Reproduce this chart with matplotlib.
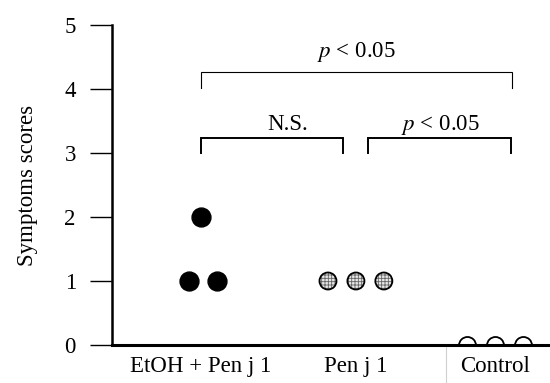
import matplotlib
matplotlib.use("Agg")
import matplotlib.pyplot as plt
import numpy as np

plt.rcParams['font.family'] = ['Liberation Serif', 'DejaVu Serif']
plt.rcParams['mathtext.fontset'] = 'stix'
plt.rcParams['hatch.linewidth'] = 0.6

# Data
categories = ["EtOH + Pen j 1", "Pen j 1", "Control"]
group_pos = [1.0, 2.054, 3.0]
etoh_scores = [1, 2, 1]
etoh_offsets = [-0.08, 0.0, 0.11]
penj_scores = [1, 1, 1]
penj_offsets = [-0.19, 0.0, 0.19]
control_scores = [0, 0, 0]
control_offsets = [-0.19, 0.0, 0.19]
yticks = [0, 1, 2, 3, 4, 5]

FS = 16.5

fig = plt.figure(figsize=(5.5, 3.83), dpi=100)
ax = fig.add_axes([0.2036, 0.0992, 0.7964, 0.8355])
ax.set_xlim(0.395, 3.374)
ax.set_ylim(0, 5)

ex = [group_pos[0] + o for o in etoh_offsets]
px = [group_pos[1] + o for o in penj_offsets]
cx = [group_pos[2] + o for o in control_offsets]

ax.scatter(ex, etoh_scores, s=185, c='black', edgecolors='black', zorder=3)
ax.scatter(px, penj_scores, s=150, facecolor='#e6e6e6', edgecolors='#666666',
           hatch='+++++', linewidths=0, zorder=3)
ax.scatter(px, penj_scores, s=150, facecolor='none', edgecolors='black',
           linewidths=1.3, zorder=4)
ax.scatter(cx, control_scores, s=150, facecolor='white', edgecolors='black',
           linewidths=1.3, zorder=3, clip_on=True)

# spines
for s in ['top', 'right']:
    ax.spines[s].set_visible(False)
ax.spines['left'].set_linewidth(1.8)
ax.spines['bottom'].set_linewidth(2.2)
ax.spines['bottom'].set_zorder(5)

ax.set_yticks(yticks)
ax.set_yticklabels([str(v) for v in yticks], fontsize=FS)
ax.tick_params(axis='y', direction='out', length=16, width=1.0, pad=10)
ax.set_xticks(group_pos)
ax.set_xticklabels(categories, fontsize=FS)
ax.tick_params(axis='x', length=0, pad=8)
ax.set_ylabel("Symptoms scores", fontsize=FS, labelpad=19)

# separator mark below axis
ax.plot([2.667, 2.667], [-0.03, -0.6], color='#d0d0d0', lw=0.8,
        clip_on=False, zorder=1)

# significance brackets
def bracket(x1, x2, ytop, ybot, lw):
    ax.plot([x1, x1, x2, x2], [ybot, ytop, ytop, ybot], color='black', lw=lw,
            clip_on=False, solid_joinstyle='miter')

bracket(1.0, 3.116, 4.266, 4.016, 0.8)
bracket(1.0, 1.966, 3.234, 3.0, 1.4)
bracket(2.136, 3.109, 3.234, 3.0, 1.4)

ax.text(2.06, 4.58, r"$p$ < 0.05", ha='center', va='center', fontsize=FS)
ax.text(1.59, 3.44, "N.S.", ha='center', va='center', fontsize=FS)
ax.text(2.63, 3.44, r"$p$ < 0.05", ha='center', va='center', fontsize=FS)

fig.savefig("out.png", dpi=100)
